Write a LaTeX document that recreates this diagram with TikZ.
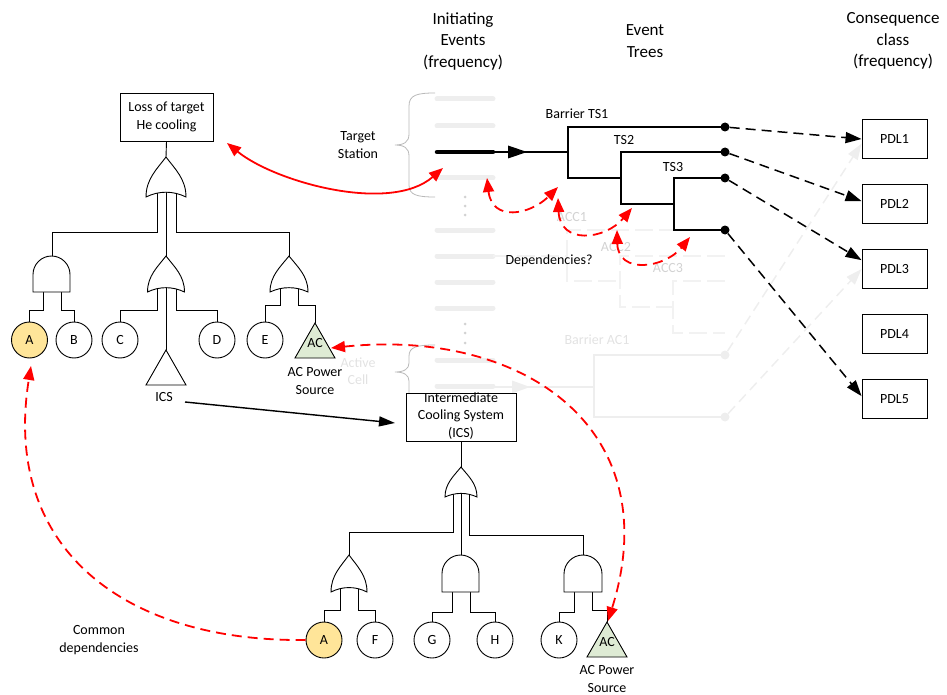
\documentclass[tikz,border=0pt]{standalone}
\usepackage{fontspec}
\setmainfont{Carlito}
\usetikzlibrary{arrows.meta}
\definecolor{fadeline}{RGB}{238,238,238}
\definecolor{fadeline2}{RGB}{242,242,242}
\definecolor{fadetext}{RGB}{226,226,226}
\definecolor{acctext}{RGB}{210,210,210}
\definecolor{bracegray}{RGB}{185,185,185}
\definecolor{yellowA}{RGB}{255,229,153}
\definecolor{greenAC}{RGB}{222,235,212}
\definecolor{redarr}{RGB}{255,0,0}
\newcommand\ftOR[4]{\draw[ft,fill=white] ({#1-#4},#3) .. controls ({#1-#4},{#3-0.45*(#3-#2)}) and ({#1-0.45*#4},{#2+0.3*(#3-#2)}) .. (#1,#2) .. controls ({#1+0.45*#4},{#2+0.3*(#3-#2)}) and ({#1+#4},{#3-0.45*(#3-#2)}) .. ({#1+#4},#3) .. controls ({#1+0.35*#4},{#3-0.16*(#3-#2)}) and ({#1-0.35*#4},{#3-0.16*(#3-#2)}) .. cycle;}
\newcommand\ftAND[4]{\draw[ft,fill=white] ({#1-#4},#3) -- ({#1-#4},{#2+#4}) .. controls ({#1-#4},{#2+0.45*#4}) and ({#1-0.55*#4},#2) .. (#1,#2) .. controls ({#1+0.55*#4},#2) and ({#1+#4},{#2+0.45*#4}) .. ({#1+#4},{#2+#4}) -- ({#1+#4},#3) -- cycle;}
\begin{document}
\begin{tikzpicture}[x=1pt,y=-1pt,
  lbl/.style={font=\fontsize{14}{17.5}\selectfont, align=center, inner sep=0pt},
  hdr/.style={font=\fontsize{17}{21.5}\selectfont, align=center, inner sep=0pt},
  ft/.style={line width=0.9pt},
  evt/.style={line width=2.4pt},
  fade/.style={draw=fadeline, line width=2.4pt},
  fadedash/.style={draw=fadeline2, line width=2.4pt, dash pattern=on 18pt off 6pt},
  ie/.style={draw=fadeline, line width=5pt, line cap=round},
  evcirc/.style={circle, draw, line width=0.9pt, fill=white, minimum size=36pt, inner sep=0pt, font=\fontsize{14}{16}\selectfont},
  dotnode/.style={circle, fill=black, minimum size=9pt, inner sep=0pt},
  fadedot/.style={circle, fill=fadeline, minimum size=9pt, inner sep=0pt},
  pdl/.style={draw, line width=0.9pt, minimum width=65pt, minimum height=39pt, inner sep=0pt, font=\fontsize{14}{16}\selectfont},
  tbox/.style={draw, line width=0.9pt, fill=white, inner sep=0pt},
  reddash/.style={draw=redarr, line width=1.8pt, dash pattern=on 10pt off 6pt},
  redsolid/.style={draw=redarr, line width=1.8pt},
  blkdash/.style={draw=black, line width=1.5pt, dash pattern=on 10pt off 6pt, -{Triangle[length=16pt,width=11pt]}},
  fadearrow/.style={draw=fadeline, line width=1.5pt, dash pattern=on 10pt off 6pt, -{Triangle[length=16pt,width=11pt]}},
  rtips/.style={{Triangle[length=14pt,width=11pt]}-{Triangle[length=14pt,width=11pt]}},
  rtip/.style={-{Triangle[length=14pt,width=11pt]}}
]
\useasboundingbox (0,0) rectangle (947,695);

% headers
\node[hdr] (h1) at (463,41) {Initiating\\Events\\(frequency)};
\node[hdr] (h2) at (645,41) {Event\\Trees};
\node[hdr] (h3) at (893,41) {Consequence\\class\\(frequency)};

% initiating event list (faded)
\foreach \yy in {99,126,178,230,256,282,308,360,386} \draw[ie] (437,\yy) -- (493,\yy);
\foreach \yy in {197,206,215,324,333,343} \fill[acctext] (465,\yy) circle (1.5);

% braces
\draw[bracegray, line width=0.8pt] (435,93) .. controls (417,93) and (409,95) .. (409,106) -- (409,134) .. controls (409,142) and (404,145) .. (395,145) .. controls (404,145) and (409,148) .. (409,156) -- (409,185) .. controls (409,195) and (417,197) .. (435,197);
\draw[bracegray, line width=0.8pt] (435,345) .. controls (417,345) and (409,347) .. (409,356) -- (409,363) .. controls (409,369) and (404,372) .. (395,372) .. controls (404,372) and (409,375) .. (409,381) -- (409,400);
\node[lbl] (ts) at (358,145) {Target\\Station};
\node[lbl, text=fadetext] (acl) at (358,371) {Active\\Cell};

% faded ACC event tree
\draw[fadedash] (493,256) -- (567,256);
\draw[fadedash] (725,230) -- (567,230) -- (567,281) -- (620,281);
\draw[fadedash] (725,256) -- (620,256) -- (620,307) -- (673,307);
\draw[fadedash] (725,281) -- (673,281) -- (673,333) -- (725,333);
\node[lbl, text=acctext] (acc1) at (572,217) {ACC1};
\node[lbl, text=acctext] (acc2) at (616,247) {ACC2};
\node[lbl, text=acctext] (acc3) at (668,268) {ACC3};

% faded active cell event tree
\draw[fade] (493,387) -- (594,387);
\fill[fadeline] (512,380.5) -- (530,387) -- (512,393.5) -- cycle;
\draw[fade] (725,355) -- (594,355) -- (594,417) -- (725,417);
\node[fadedot] (f1) at (725,355) {};
\node[fadedot] (f2) at (725,417) {};
\node[lbl, text=fadetext] (bac1) at (597,340) {Barrier AC1};

% consequence boxes
\node[pdl] (p1) at (894.5,139) {PDL1};
\node[pdl] (p2) at (894.5,204) {PDL2};
\node[pdl] (p3) at (894.5,269) {PDL3};
\node[pdl] (p4) at (894.5,334) {PDL4};
\node[pdl] (p5) at (894.5,399) {PDL5};
\draw[fadearrow] (f1) -- (p1.188);
\draw[fadearrow] (f2) -- (p3.west);

% target station event tree
\draw[line width=4.5pt, line cap=round] (437,152) -- (493,152);
\draw[evt] (493,152) -- (568,152);
\fill (508,145.5) -- (527,152) -- (508,158.5) -- cycle;
\draw[evt] (725,127) -- (568,127) -- (568,178) -- (621,178);
\draw[evt] (725,152) -- (621,152) -- (621,204) -- (674,204);
\draw[evt] (725,178) -- (674,178) -- (674,230) -- (725,230);
\node[dotnode] (e1) at (725,127) {};
\node[dotnode] (e2) at (725,152) {};
\node[dotnode] (e3) at (725,178) {};
\node[dotnode] (e4) at (725,230) {};
\node[lbl] (bts1) at (577,114) {Barrier TS1};
\node[lbl] (ts2) at (624,140) {TS2};
\node[lbl] (ts3) at (673,167) {TS3};
\draw[blkdash] (e1) -- (p1.west);
\draw[blkdash] (e2) -- (p2.175);
\draw[blkdash] (e3) -- (p3.165);
\draw[blkdash] (e4) -- (p5.175);
\node[lbl] (dep) at (549,261) {Dependencies?};

% ---- top fault tree ----
\node[tbox, minimum width=93pt, minimum height=48pt] (lt) at (166.5,117) {};
\node[lbl] (ltt) at (lt) {Loss of target\\He cooling};
\draw[ft] (lt.south) -- (166,157);
\draw[ft] (157,190) |- (52,232) -- (52,256);
\draw[ft] (166,190) -- (166,256);
\draw[ft] (176,190) |- (289,232) -- (289,256);
\draw[ft] (43,290) |- (29.5,310) -- (29.5,322);
\draw[ft] (61,290) |- (74,310) -- (74,322);
\draw[ft] (157,287) |- (120,310) -- (120,322);
\draw[ft] (166,287) -- (166,350);
\draw[ft] (176,287) |- (217,310) -- (217,322);
\draw[ft] (280,287) |- (265,305) -- (265,322);
\draw[ft] (298,287) |- (315,305) -- (315,323);
\ftOR{166}{157}{197}{20}
\ftAND{51.5}{256}{292}{18.5}
\ftOR{166}{256}{292}{18.5}
\ftOR{289}{256}{292}{19}
\node[evcirc, fill=yellowA] (A1) at (29.5,340) {A};
\node[evcirc] (B) at (74,340) {B};
\node[evcirc] (C) at (120,340) {C};
\node[evcirc] (D) at (217,340) {D};
\node[evcirc] (E) at (265,340) {E};
\draw[ft, fill=white] (166,350) -- (186,385) -- (146,385) -- cycle;
\node[lbl] (icsl) at (164,397) {ICS};
\draw[ft, fill=greenAC] (315,323) -- (335,358) -- (295,358) -- cycle;
\node[lbl] (ac1) at (315,343) {AC};
\node[lbl] (ac1l) at (315,381) {AC Power\\Source};

% ---- bottom fault tree ----
\node[tbox, minimum width=110pt, minimum height=48pt] (ics) at (461,417) {};
\node[lbl] (icst) at (461,416) {Intermediate\\Cooling System\\(ICS)};
\draw[ft] (ics.south) -- (461,467);
\draw[ft] (453,492) |- (349,532) -- (349,555);
\draw[ft] (461,492) -- (461,555);
\draw[ft] (469,492) |- (583,535) -- (583,555);
\draw[ft] (340,587) |- (324,610) -- (324,622);
\draw[ft] (358,587) |- (375,610) -- (375,622);
\draw[ft] (452,590) |- (432,612) -- (432,622);
\draw[ft] (470,590) |- (495,612) -- (495,622);
\draw[ft] (574,590) |- (559,612) -- (559,622);
\draw[ft] (592,590) |- (607,610) -- (607,622);
\ftOR{461}{467}{497}{16}
\ftOR{349}{555}{592}{18}
\ftAND{460.5}{555}{592}{18.5}
\ftAND{583}{555}{592}{19}
\node[evcirc, fill=yellowA] (A2) at (324,640) {A};
\node[evcirc] (F) at (375,640) {F};
\node[evcirc] (G) at (432,640) {G};
\node[evcirc] (H) at (495,640) {H};
\node[evcirc] (K) at (559,640) {K};
\draw[ft, fill=greenAC] (607,622) -- (627,657) -- (587,657) -- cycle;
\node[lbl] (ac2) at (607,642) {AC};
\node[lbl] (ac2l) at (607,679) {AC Power\\Source};

\node[lbl] (cd) at (99,640) {Common\\dependencies};

% ICS link
\coordinate (icsA) at (185,402);
\coordinate (icsB) at (395,423);
\draw[line width=1.4pt, -{Triangle[length=16pt,width=10pt]}] (icsA) -- (icsB);

% red connectors
\coordinate (r1a) at (227,143);
\coordinate (r1b) at (443,168);
\draw[redsolid, rtips] (r1a) .. controls (275,182) and (390,214) .. (r1b);
\coordinate (d1a) at (487,178); \coordinate (d1b) at (558,187);
\coordinate (d2a) at (558,198); \coordinate (d2b) at (632,208);
\coordinate (d3a) at (617,230); \coordinate (d3b) at (690,237);
\draw[reddash, rtips] (d1a) .. controls (492,222) and (530,215) .. (d1b);
\draw[reddash, rtips] (d2a) .. controls (560,245) and (605,240) .. (d2b);
\draw[reddash, rtips] (d3a) .. controls (618,275) and (665,268) .. (d3b);
\coordinate (tipA) at (31,366);
\draw[reddash, rtip] (A2.west) .. controls (120,642) and (2,545) .. (tipA);
\coordinate (acT1) at (331,348);
\coordinate (acT2) at (608,621);
\draw[reddash, rtips] (acT1) .. controls (525,328) and (668,430) .. (acT2);
\end{tikzpicture}
\end{document}
